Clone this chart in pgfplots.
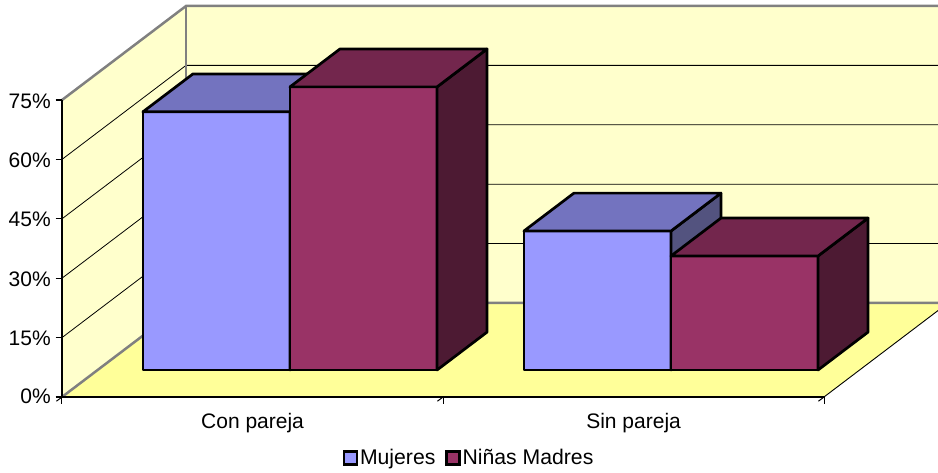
\documentclass[border=0pt]{standalone}
\usepackage{pgfplots}
\pgfplotsset{compat=1.18}
\usepackage{fontspec}
\setmainfont{Liberation Sans}
\definecolor{wall}{HTML}{FFFFCC}
\definecolor{floorc}{HTML}{FFFF99}
\definecolor{edgeg}{HTML}{808080}
\definecolor{mF}{HTML}{9999FF}
\definecolor{mT}{HTML}{7373BF}
\definecolor{mS}{HTML}{53537F}
\definecolor{nF}{HTML}{993366}
\definecolor{nT}{HTML}{73264D}
\definecolor{nS}{HTML}{4D1A33}
\newcommand\BarBox[6]{%
  \addplot3[forget plot,fill=#4,draw=black,line width=2.7pt,line join=round] coordinates {(#1,0.287,0)(#2,0.287,0)(#2,0.287,#3)(#1,0.287,#3)} -- cycle;
  \addplot3[forget plot,fill=#6,draw=black,line width=2.7pt,line join=round] coordinates {(#2,0.287,0)(#2,0.69,0)(#2,0.69,#3)(#2,0.287,#3)} -- cycle;
  \addplot3[forget plot,fill=#5,draw=black,line width=2.7pt,line join=round] coordinates {(#1,0.287,#3)(#2,0.287,#3)(#2,0.69,#3)(#1,0.69,#3)} -- cycle;
}
\newcommand\GridLine[1]{%
  \addplot3[forget plot,black,line width=0.8pt] coordinates {(0,0,#1)(0,1,#1)(2,1,#1)};
}
\newcommand\ZTick[1]{%
  \addplot3[forget plot,black,line width=1.2pt] coordinates {(-0.0165,0,#1)(0,0,#1)};
}
\begin{document}
\begin{tikzpicture}[x=1pt,y=1pt]
\clip (0,0) rectangle (938,473);
\begin{axis}[
  at={(62pt,76pt)},anchor=origin,
  x={(381pt,0pt)},y={(124pt,94pt)},z={(0pt,3.96pt)},
  xmin=0,xmax=2,ymin=0,ymax=1,zmin=0,zmax=75,
  clip=false,
  axis line style={draw=none},
  font=\fontsize{21}{25}\selectfont,
  xtick={0.5,1.5},xticklabels={Con pareja,Sin pareja},
  minor xtick={0,1,2},
  ytick=\empty,
  ztick={0,15,30,45,60,75},
  zticklabel={\pgfmathprintnumber{\tick}\%},
  /pgf/number format/assume math mode=true,
  xtick pos=left,ztick pos=left,
  tick align=outside,
  major tick length=6pt,minor tick length=7pt,
  z tick style={draw=none},
  x tick style={draw=none},
  minor x tick style={draw=black,line width=1pt},
  xticklabel style={xshift=11.5pt,yshift=-9pt},
  zticklabel style={xshift=-3pt,yshift=11pt},
  legend image code/.code={\draw[line width=2.2pt,#1] (0pt,-6.5pt) rectangle (13pt,6.5pt);},
  legend style={at={(0.4595,-0.156)},anchor=center,draw=none,fill=none,
    legend columns=2,/tikz/every even column/.append style={column sep=8pt},
    font=\fontsize{21.2}{25}\selectfont},
]
\addlegendimage{fill=mF,draw=black}
\addlegendimage{fill=nF,draw=black}
% walls and floor
\addplot3[forget plot,fill=wall,draw=none] coordinates {(0,0,0)(0,1,0)(0,1,75)(0,0,75)} -- cycle;
\addplot3[forget plot,fill=wall,draw=none] coordinates {(0,1,0)(2,1,0)(2,1,75)(0,1,75)} -- cycle;
\addplot3[forget plot,fill=floorc,draw=none] coordinates {(0,0,0)(2,0,0)(2,1,0)(0,1,0)} -- cycle;
\GridLine{15}\GridLine{30}\GridLine{45}\GridLine{60}
% wall edges
\addplot3[forget plot,edgeg,line width=2.5pt] coordinates {(0,0,75)(0,1,75)(2,1,75)};
\addplot3[forget plot,edgeg,line width=2.5pt] coordinates {(0,1,0)(0,1,75)};
\addplot3[forget plot,edgeg,line width=2.5pt] coordinates {(0,0,0)(0,1,0)(2,1,0)};
% axes
\addplot3[forget plot,black,line width=1.4pt] coordinates {(0,0,75)(0,0,0)(2,0,0)};
\addplot3[forget plot,black,line width=0.9pt] coordinates {(2,0,0)(2,1,0)};
\ZTick{0}\ZTick{15}\ZTick{30}\ZTick{45}\ZTick{60}\ZTick{75}
% bars
\BarBox{0.119}{0.505}{65.2}{mF}{mT}{mS}
\BarBox{0.505}{0.891}{71.5}{nF}{nT}{nS}
\BarBox{1.119}{1.505}{35.1}{mF}{mT}{mS}
\BarBox{1.505}{1.891}{28.8}{nF}{nT}{nS}
\legend{Mujeres,Niñas Madres}
\end{axis}
\end{tikzpicture}
\end{document}
